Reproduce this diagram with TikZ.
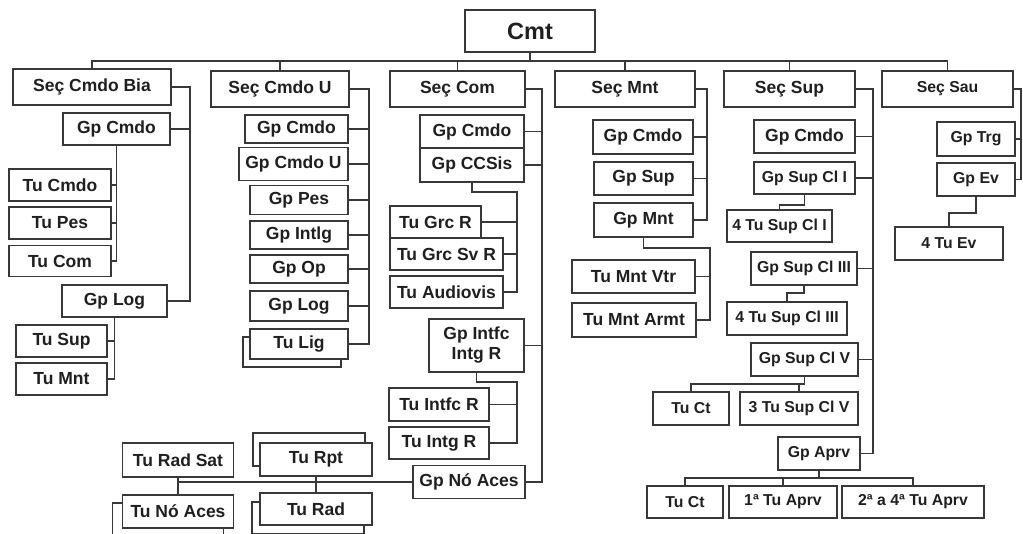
\documentclass[tikz,border=0pt]{standalone}
\usepackage{fontspec}
\setmainfont{Liberation Sans}
\usetikzlibrary{shadows}
\begin{document}
\begin{tikzpicture}[x=1pt,y=-1pt,line width=1.6pt,draw=black!78,
  box/.style={draw=black!78,fill=white,inner sep=1pt,align=center,text=black!88,
    font=\bfseries\fontsize{17.5}{20}\selectfont},
  sbox/.style={box,font=\bfseries\fontsize{15.8}{18}\selectfont},
  stack/.style 2 args={copy shadow={shadow xshift=#1,shadow yshift=#2,
    draw=black!78,fill=white,line width=1.6pt}}]
\useasboundingbox (0,0) rectangle (1023,533);
\clip (0,0) rectangle (1023,533);

\node[box,font=\bfseries\fontsize{23.5}{26}\selectfont,minimum width=130,minimum height=42] (T) at (530,31){Cmt};

% Seç Cmdo Bia
\node[box,minimum width=158,minimum height=36] (A0) at (92,87){Seç Cmdo Bia};
\node[box,minimum width=107,minimum height=32] (A1) at (116.5,129){Gp Cmdo};
\node[box,minimum width=102,minimum height=32] (A2) at (60,185){Tu Cmdo};
\node[box,minimum width=102,minimum height=32] (A3) at (60,223){Tu Pes};
\node[box,minimum width=102,minimum height=31] (A4) at (60,261){Tu Com};
\node[box,minimum width=105,minimum height=32] (A5) at (114.5,301){Gp Log};
\node[box,minimum width=91,minimum height=32] (A6) at (61.5,341){Tu Sup};
\node[box,minimum width=91,minimum height=32] (A7) at (61.5,379){Tu Mnt};
\coordinate (a0) at (190,87);
\draw (A0.east)--(a0)--(a0|-A5.east)--(A5.east);
\draw (A1.east)--(A1.east-|a0);
\draw (A1.south)--(A1.south|-A4.east)--(A4.east);
\draw (A2.east)--(A2.east-|A1.south);
\draw (A3.east)--(A3.east-|A1.south);
\draw (A5.south)--(A5.south|-A7.east)--(A7.east);
\draw (A6.east)--(A6.east-|A5.south);

% Seç Cmdo U
\node[box,minimum width=138,minimum height=36] (B0) at (280,89){Seç Cmdo U};
\node[box,minimum width=103,minimum height=28] (B1) at (296.5,129){Gp Cmdo};
\node[box,minimum width=109,minimum height=33] (B2) at (293.5,164){Gp Cmdo U};
\node[box,minimum width=98,minimum height=29] (B3) at (299,200){Gp Pes};
\node[box,minimum width=98,minimum height=28] (B4) at (299,235){Gp Intlg};
\node[box,minimum width=98,minimum height=28] (B5) at (299,269){Gp Op};
\node[box,minimum width=98,minimum height=30] (B6) at (299,306){Gp Log};
\node[box,stack={-7pt}{-8pt},minimum width=98,minimum height=30] (B7) at (299,344){Tu Lig};
\coordinate (b0) at (369,89);
\draw (B0.east)--(b0)--(b0|-B7.east)--(B7.east);
\draw (B1.east)--(B1.east-|b0);
\draw (B2.east)--(B2.east-|b0);
\draw (B3.east)--(B3.east-|b0);
\draw (B4.east)--(B4.east-|b0);
\draw (B5.east)--(B5.east-|b0);
\draw (B6.east)--(B6.east-|b0);

% Seç Com
\node[box,minimum width=135,minimum height=36] (C0) at (457.5,89){Seç Com};
\node[box,minimum width=104,minimum height=33] (C1) at (472,131.5){Gp Cmdo};
\node[box,minimum width=104,minimum height=34] (C2) at (472,165){Gp CCSis};
\node[box,minimum width=91,minimum height=32] (C3) at (435.5,222){Tu Grc R};
\node[box,minimum width=113,minimum height=32] (C4) at (446.5,254){Tu Grc Sv R};
\node[box,minimum width=113,minimum height=32] (C5) at (446.5,292){Tu Audiovis};
\node[box,minimum width=95,minimum height=53] (C6) at (476.5,345.5){Gp Intfc\\Intg R};
\node[box,minimum width=100,minimum height=33] (C7) at (439,404.5){Tu Intfc R};
\node[box,minimum width=100,minimum height=32] (C8) at (439,443){Tu Intg R};
\node[box,minimum width=112,minimum height=33] (C9) at (469,482){Gp Nó Aces};
\coordinate (c0) at (542,89);
\draw (C0.east)--(c0)--(c0|-C9.east)--(C9.east);
\draw (C1.east)--(C1.east-|c0);
\draw (C2.east)--(C2.east-|c0);
\draw (C6.east)--(C6.east-|c0);
\coordinate (c2) at (517,192);
\draw (C2.south)|-(c2)--(c2|-C5.east)--(C5.east);
\draw (C3.east)--(C3.east-|c2);
\draw (C4.east)--(C4.east-|c2);
\coordinate (c6) at (517,382);
\draw (C6.south)|-(c6)--(c6|-C8.east)--(C8.east);
\draw (C7.east)--(C7.east-|c6);

% Gp Nó Aces
\node[box,minimum width=111,minimum height=34] (N1) at (178,460){Tu Rad Sat};
\node[box,stack={-7pt}{10pt},minimum width=112,minimum height=33] (N2) at (316,459.5){Tu Rpt};
\node[box,stack={-10pt}{-8pt},minimum width=111,minimum height=33] (N3) at (178,511.5){Tu Nó Aces};
\node[box,stack={-8pt}{-9pt},minimum width=112,minimum height=32] (N4) at (316,509){Tu Rad};
\draw (C9.west)--(C9.west-|N1.south);
\draw (N1.south)--(N3.north);
\draw (N2.south)--(N4.north);

% Seç Mnt
\node[box,minimum width=140,minimum height=36] (D0) at (625,89){Seç Mnt};
\node[box,minimum width=100,minimum height=34] (D1) at (643,137){Gp Cmdo};
\node[box,minimum width=99,minimum height=33] (D2) at (643.5,178.5){Gp Sup};
\node[box,minimum width=99,minimum height=34] (D3) at (643.5,220){Gp Mnt};
\node[box,minimum width=123,minimum height=33] (D4) at (633.5,276.5){Tu Mnt Vtr};
\node[box,minimum width=124,minimum height=34] (D5) at (634,320){Tu Mnt Armt};
\coordinate (d0) at (707,89);
\draw (D0.east)--(d0)--(d0|-D3.east)--(D3.east);
\draw (D1.east)--(D1.east-|d0);
\draw (D2.east)--(D2.east-|d0);
\coordinate (d3) at (710,248);
\draw (D3.south)|-(d3)--(d3|-D5.east)--(D5.east);
\draw (D4.east)--(D4.east-|d3);

% Seç Sup
\node[box,minimum width=131,minimum height=36] (E0) at (789.5,89){Seç Sup};
\node[box,minimum width=101,minimum height=33] (E1) at (804.5,136.5){Gp Cmdo};
\node[sbox,minimum width=101,minimum height=32] (E2) at (804.5,178){Gp Sup Cl I};
\node[sbox,minimum width=105,minimum height=32] (E3) at (779.5,226){4 Tu Sup Cl I};
\node[sbox,minimum width=106,minimum height=33] (E4) at (804,268.5){Gp Sup Cl III};
\node[sbox,minimum width=120,minimum height=33] (E5) at (787,318.5){4 Tu Sup Cl III};
\node[sbox,minimum width=107,minimum height=33] (E6) at (804.5,359.5){Gp Sup Cl V};
\node[sbox,minimum width=76,minimum height=33] (E7) at (691,408.5){Tu Ct};
\node[sbox,minimum width=118,minimum height=33] (E8) at (799,408.5){3 Tu Sup Cl V};
\node[sbox,minimum width=82,minimum height=33] (E9) at (819,453.5){Gp Aprv};
\node[sbox,minimum width=76,minimum height=32] (E10) at (685,502){Tu Ct};
\node[sbox,minimum width=108,minimum height=32] (E11) at (783,502){1ª Tu Aprv};
\node[sbox,minimum width=142,minimum height=32] (E12) at (913,502){2ª a 4ª Tu Aprv};
\coordinate (e0) at (873,89);
\draw (E0.east)--(e0)--(e0|-E9.east)--(E9.east);
\draw (E1.east)--(E1.east-|e0);
\draw (E2.east)--(E2.east-|e0);
\draw (E4.east)--(E4.east-|e0);
\draw (E6.east)--(E6.east-|e0);
\draw (E2.south)--++(0,10)-|(E3.north);
\draw (E4.south)--++(0,7)-|(E5.north);
\draw (E6.south)--++(0,7) coordinate (e6);
\draw (E7.north)--(E7.north|-e6)--(e6);
\draw (E8.north)--(E8.north|-e6);
\draw (E9.south)--++(0,7) coordinate (e9);
\draw (E10.north)|-(e9)-|(E12.north);
\draw (E11.north)--(E11.north|-e9);

% Seç Sau
\node[sbox,minimum width=131,minimum height=36] (F0) at (947.5,89){Seç Sau};
\node[sbox,minimum width=78,minimum height=34] (F1) at (976,139){Gp Trg};
\node[sbox,minimum width=78,minimum height=33] (F2) at (976,179.5){Gp Ev};
\node[sbox,minimum width=108,minimum height=33] (F3) at (949,243.5){4 Tu Ev};
\coordinate (f0) at (1021,89);
\draw (F0.east)--(f0)--(f0|-F2.east)--(F2.east);
\draw (F1.east)--(F1.east-|f0);
\draw (F2.south)--++(0,16)-|(F3.north);

% Cmt
\coordinate (t) at (530,61);
\draw (T.south)--(t);
\draw (A0.north)--(A0.north|-t)--(F0.north|-t)--(F0.north);
\draw (B0.north)--(B0.north|-t);
\draw (C0.north)--(C0.north|-t);
\draw (D0.north)--(D0.north|-t);
\draw (E0.north)--(E0.north|-t);
\end{tikzpicture}
\end{document}
